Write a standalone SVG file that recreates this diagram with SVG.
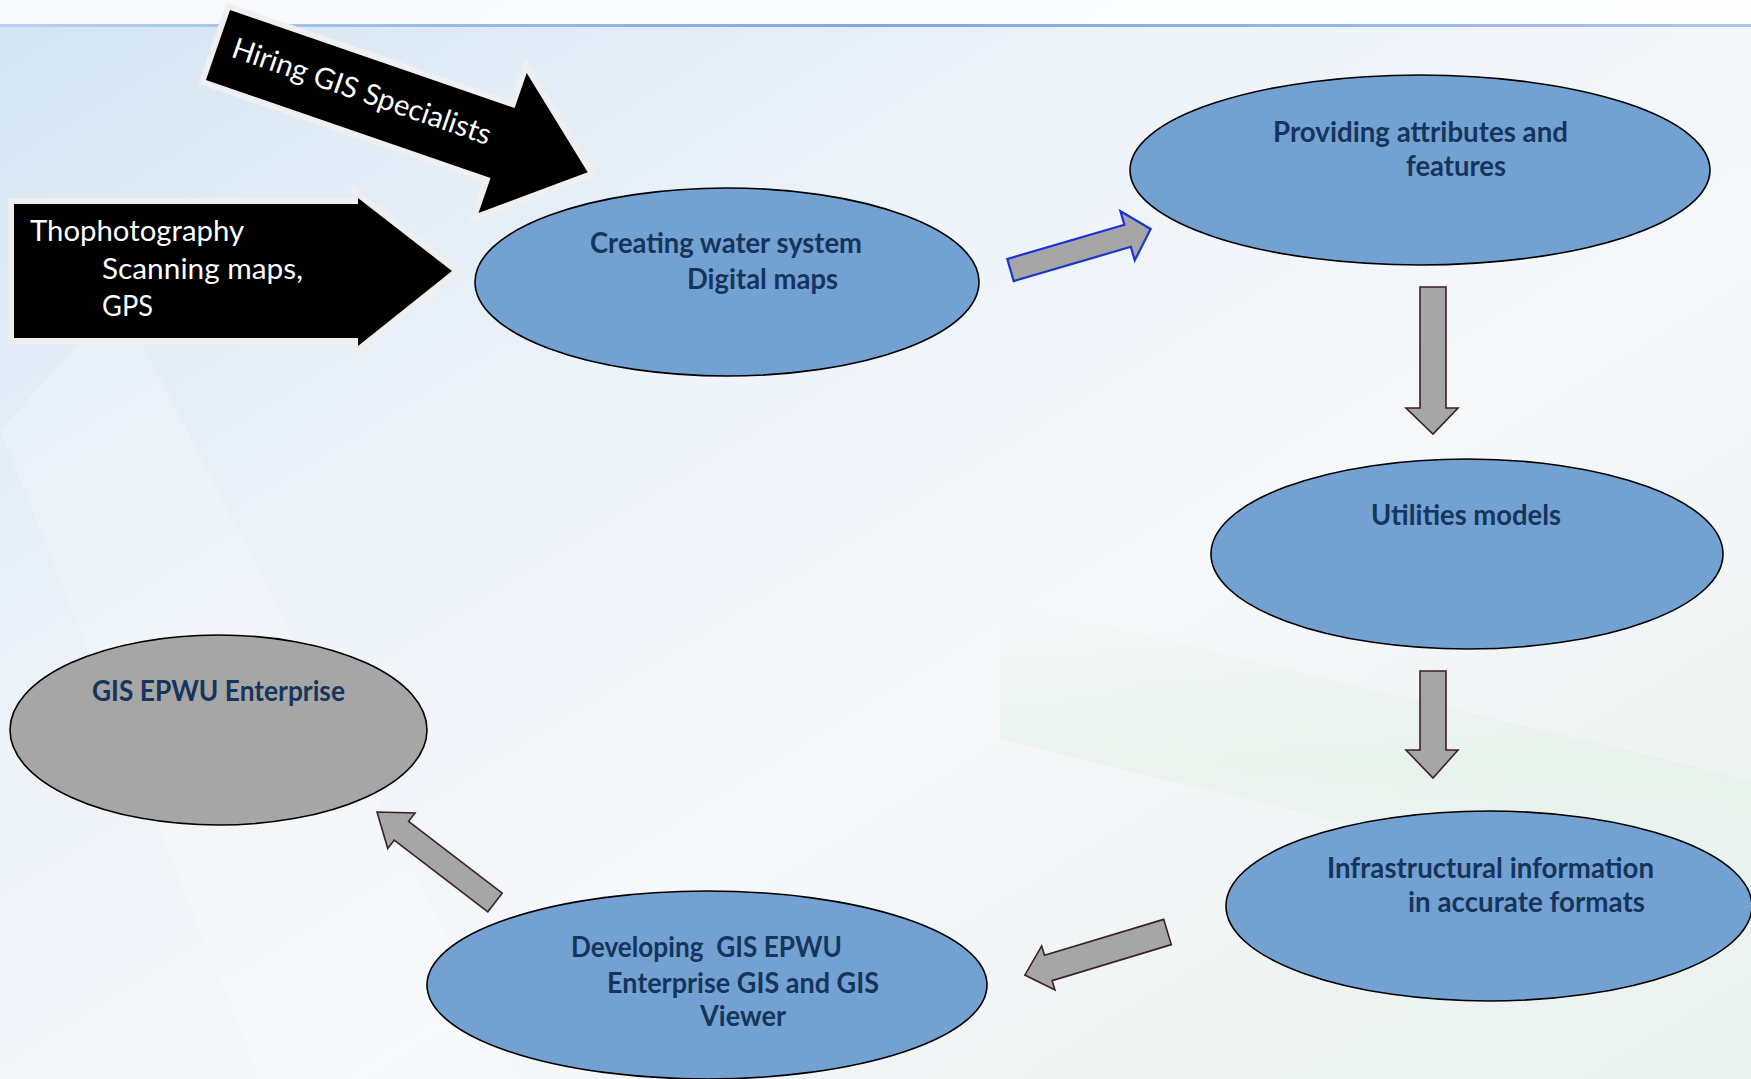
<svg xmlns="http://www.w3.org/2000/svg" width="1751" height="1079" viewBox="0 0 1751 1079">
<defs>
<linearGradient id="bg" x1="0" y1="0" x2="1" y2="1">
<stop offset="0" stop-color="#d3e4f3"/>
<stop offset="0.35" stop-color="#edf3f9"/>
<stop offset="0.6" stop-color="#f6f8fa"/>
<stop offset="1" stop-color="#e9f1ee"/>
</linearGradient>
<linearGradient id="band" x1="0" y1="0" x2="0" y2="1">
<stop offset="0" stop-color="#dcefe0" stop-opacity="0"/>
<stop offset="0.5" stop-color="#dcefe0" stop-opacity="0.6"/>
<stop offset="1" stop-color="#dcefe0" stop-opacity="0"/>
</linearGradient>
<linearGradient id="topline" x1="0" y1="0" x2="1" y2="0">
<stop offset="0" stop-color="#b7d0ec"/>
<stop offset="0.5" stop-color="#7fa8dc"/>
<stop offset="1" stop-color="#a9c5ea"/>
</linearGradient>
<style>
.node{fill:#73a2d2;stroke:#000;stroke-width:1.6}
.gray{fill:#a6a6a6;stroke:#000;stroke-width:1.6}
.lbl{font-family:Lato,"Liberation Sans",sans-serif;font-weight:bold;font-size:28px;fill:#15355c;white-space:pre}
.wt{font-family:Lato,"Liberation Sans",sans-serif;font-size:29px;fill:#fff}
.blk{fill:#000;stroke:#efefef;stroke-width:12;stroke-linejoin:miter;paint-order:stroke}
.conn{fill:#a6a6a6;stroke:#3c1f28;stroke-width:1.6;stroke-linejoin:miter}
.connb{fill:#a6a6a6;stroke:#1a35d6;stroke-width:2.2;stroke-linejoin:miter}
</style>
</defs>
<rect x="0" y="0" width="1751" height="1079" fill="url(#bg)"/>
<polygon points="0,430 260,1079 520,1079 120,300" fill="#ffffff" opacity="0.22"/>
<polygon points="1000,600 1751,780 1751,920 1000,740" fill="url(#band)" opacity="0.7"/>
<rect x="0" y="0" width="1751" height="24" fill="#ffffff" opacity="0.8"/>
<rect x="0" y="24" width="1751" height="3" fill="url(#topline)"/>

<g id="input-hiring" transform="translate(218,45) rotate(19)">
<polygon class="blk" points="0,-37 301,-37 301,-74 391,0 301,74 301,37 0,37"/>
<text class="wt" x="15" y="7" font-size="29" textLength="272" lengthAdjust="spacingAndGlyphs">Hiring GIS Specialists</text>
</g>

<g id="input-sources">
<polygon class="blk" points="14,204 358,204 358,198 452,271 358,346 358,338 14,338"/>
<text class="wt" x="30" y="241" textLength="214" lengthAdjust="spacingAndGlyphs">Thophotography</text>
<text class="wt" x="102" y="279" textLength="201" lengthAdjust="spacingAndGlyphs">Scanning maps,</text>
<text class="wt" x="102" y="316" textLength="51" lengthAdjust="spacingAndGlyphs">GPS</text>
</g>

<g id="connectors">
<polygon class="connb" transform="translate(1010.5,270) rotate(-16.3)" points="0,-11.5 122,-11.5 122,-25.6 146,0 122,25.6 122,11.5 0,11.5"/>
<polygon class="conn" points="1420,287 1446,287 1446,408 1458,408 1433,434 1406,408 1420,408"/>
<polygon class="conn" points="1420,671 1446,671 1446,750 1458,750 1433,778 1406,750 1420,750"/>
<polygon class="conn" transform="translate(1167.5,932) rotate(163.2)" points="0,-13.2 124.5,-13.2 124.5,-23 149,0 124.5,23 124.5,13.2 0,13.2"/>
<polygon class="conn" transform="translate(495,902.5) rotate(217.5)" points="0,-11.8 118,-11.8 118,-22.4 148.7,0 118,22.4 118,11.8 0,11.8"/>
</g>

<g id="node-creating">
<ellipse class="node" cx="727" cy="282" rx="252" ry="94"/>
<text class="lbl" x="590" y="253" textLength="272" lengthAdjust="spacingAndGlyphs">Creating water system</text>
<text class="lbl" x="687" y="289" textLength="151" lengthAdjust="spacingAndGlyphs">Digital maps</text>
</g>

<g id="node-providing">
<ellipse class="node" cx="1420" cy="170" rx="290" ry="95"/>
<text class="lbl" x="1273" y="142" textLength="295" lengthAdjust="spacingAndGlyphs">Providing attributes and</text>
<text class="lbl" x="1406" y="176" textLength="100" lengthAdjust="spacingAndGlyphs">features</text>
</g>

<g id="node-utilities">
<ellipse class="node" cx="1467" cy="554" rx="256" ry="95"/>
<text class="lbl" x="1371" y="525" textLength="190" lengthAdjust="spacingAndGlyphs">Utilities models</text>
</g>

<g id="node-infrastructural">
<ellipse class="node" cx="1489" cy="906" rx="263" ry="95"/>
<text class="lbl" x="1327" y="878" textLength="327" lengthAdjust="spacingAndGlyphs">Infrastructural information</text>
<text class="lbl" x="1408" y="912" textLength="237" lengthAdjust="spacingAndGlyphs">in accurate formats</text>
</g>

<g id="node-developing">
<ellipse class="node" cx="707" cy="985" rx="280" ry="94"/>
<text class="lbl" x="571" y="957" textLength="271" lengthAdjust="spacingAndGlyphs">Developing  GIS EPWU</text>
<text class="lbl" x="607" y="993" textLength="272" lengthAdjust="spacingAndGlyphs">Enterprise GIS and GIS</text>
<text class="lbl" x="700" y="1026" textLength="86" lengthAdjust="spacingAndGlyphs">Viewer</text>
</g>

<g id="node-enterprise">
<ellipse class="gray" cx="218.5" cy="730" rx="208.5" ry="95"/>
<text class="lbl" x="92" y="701" textLength="253" lengthAdjust="spacingAndGlyphs">GIS EPWU Enterprise</text>
</g>
</svg>
